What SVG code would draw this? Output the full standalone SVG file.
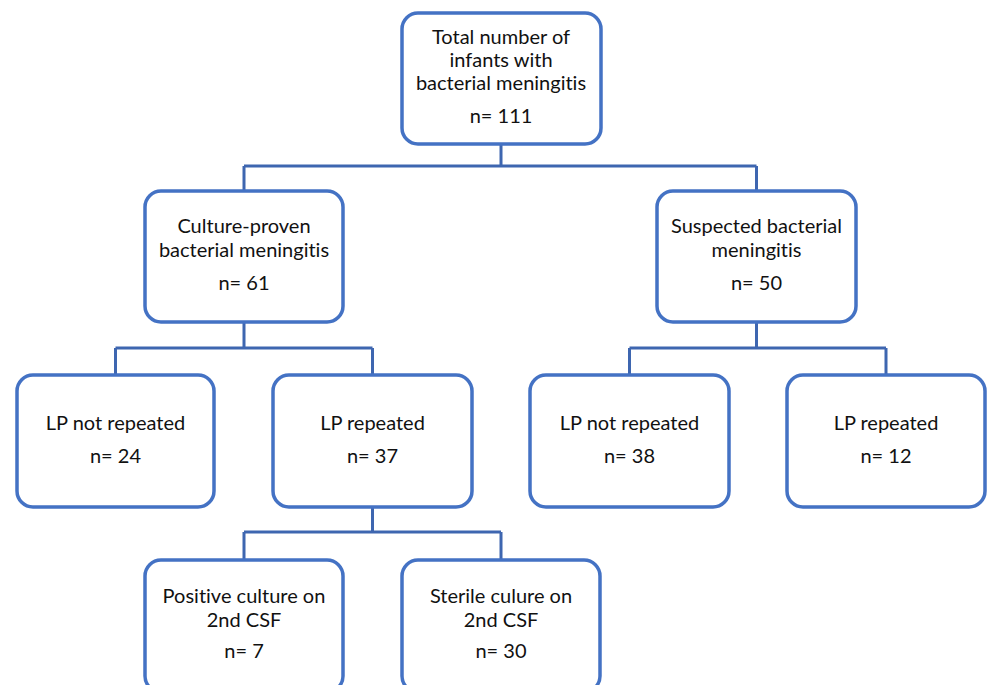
<svg xmlns="http://www.w3.org/2000/svg" width="987" height="685" viewBox="0 0 987 685">
<style>
.box{fill:#fff;stroke:#4472C4;stroke-width:3.5}
.ln{fill:none;stroke:#3E66B0;stroke-width:3}
text{font-family:Lato,"Open Sans","Liberation Sans",sans-serif;font-size:20px;fill:#111;text-anchor:middle;font-variant-ligatures:none;font-feature-settings:"liga" 0,"dlig" 0}
</style>
<rect width="987" height="685" fill="#fff"/>
<g id="connectors">
<path class="ln" d="M501 144V166M244 166H756.5M244 166V191M756.5 166V191"/>
<path class="ln" d="M244 322V348M115.5 348H372.5M115.5 348V375M372.5 348V375"/>
<path class="ln" d="M756.5 322V348M629.5 348H886M629.5 348V375M886 348V375"/>
<path class="ln" d="M372.5 507V532M244 532H501M244 532V560M501 532V560"/>
</g>
<g id="n1"><rect class="box" x="402" y="13" width="199" height="131" rx="16"/>
<text x="501" y="44">Total number of</text><text x="501" y="67">infants with</text><text x="501" y="90">bacterial meningitis</text><text x="501" y="123">n= 111</text></g>
<g id="n2"><rect class="box" x="145" y="191" width="198" height="131" rx="16"/>
<text x="244" y="233">Culture-proven</text><text x="244" y="257">bacterial meningitis</text><text x="244" y="290">n= 61</text></g>
<g id="n3"><rect class="box" x="657" y="191" width="199" height="131" rx="16"/>
<text x="756.5" y="233">Suspected bacterial</text><text x="756.5" y="257">meningitis</text><text x="756.5" y="290">n= 50</text></g>
<g id="n4"><rect class="box" x="17" y="375" width="197" height="132" rx="16"/>
<text x="115.5" y="430">LP not repeated</text><text x="115.5" y="463">n= 24</text></g>
<g id="n5"><rect class="box" x="273" y="375" width="199" height="132" rx="16"/>
<text x="372.5" y="430">LP repeated</text><text x="372.5" y="463">n= 37</text></g>
<g id="n6"><rect class="box" x="530" y="375" width="199" height="132" rx="16"/>
<text x="629.5" y="430">LP not repeated</text><text x="629.5" y="463">n= 38</text></g>
<g id="n7"><rect class="box" x="787" y="375" width="198" height="132" rx="16"/>
<text x="886" y="430">LP repeated</text><text x="886" y="463">n= 12</text></g>
<g id="n8"><rect class="box" x="145" y="560" width="198" height="132" rx="16"/>
<text x="244" y="603">Positive culture on</text><text x="244" y="627">2nd CSF</text><text x="244" y="658">n= 7</text></g>
<g id="n9"><rect class="box" x="402" y="560" width="198" height="132" rx="16"/>
<text x="501" y="603">Sterile culure on</text><text x="501" y="627">2nd CSF</text><text x="501" y="658">n= 30</text></g>
</svg>
